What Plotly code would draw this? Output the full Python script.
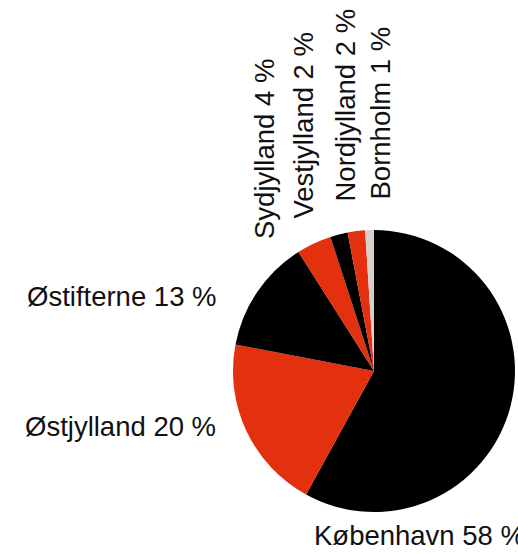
import plotly.graph_objects as go

# ---- data ----
regions = ["København", "Østjylland", "Østifterne", "Sydjylland",
           "Vestjylland", "Nordjylland", "Bornholm"]
shares = [58, 20, 13, 4, 2, 2, 1]

# ---- styling / layout (not data) ----
colors = ["#000000", "#e3300f", "#000000", "#e3300f", "#000000", "#e3300f", "#d8cfcb"]
W, H = 518, 554
FONT = "Liberation Sans, Arial, sans-serif"
FSIZE = 27.5

# label placement in window pixels: (x, y, xanchor, yanchor, angle)
label_pos = {
    "København": (312, 535, "left", "middle", 0),
    "Østjylland": (218, 426, "right", "middle", 0),
    "Østifterne": (219, 296, "right", "middle", 0),
    "Sydjylland": (265, 241, "center", "bottom", -90),
    "Vestjylland": (303, 221, "center", "bottom", -90),
    "Nordjylland": (345, 204, "center", "bottom", -90),
    "Bornholm": (380, 202, "center", "bottom", -90),
}

cx, cy, r = 374, 371, 141

fig = go.Figure(go.Pie(
    labels=regions,
    values=shares,
    sort=False,
    direction="clockwise",
    rotation=0,
    marker=dict(colors=colors, line=dict(width=0)),
    textinfo="none",
    hoverinfo="label+percent",
    showlegend=False,
    domain=dict(x=[(cx - r) / W, (cx + r) / W],
                y=[1 - (cy + r) / H, 1 - (cy - r) / H]),
))

annotations = []
for name, val in zip(regions, shares):
    x, y, xa, ya, ang = label_pos[name]
    annotations.append(dict(
        text=f"{name} {val} %",
        x=x / W, y=1 - y / H, xref="paper", yref="paper",
        xanchor=xa, yanchor=ya, textangle=ang, showarrow=False,
        font=dict(family=FONT, size=FSIZE, color="#111111"),
    ))

fig.update_layout(
    width=W, height=H,
    margin=dict(l=0, r=0, t=0, b=0),
    paper_bgcolor="white", plot_bgcolor="white",
    annotations=annotations,
)

fig.write_html(
    "out.html",
    config={"displayModeBar": False},
    post_script="document.body.style.margin='0px';document.body.style.overflow='hidden';",
)
